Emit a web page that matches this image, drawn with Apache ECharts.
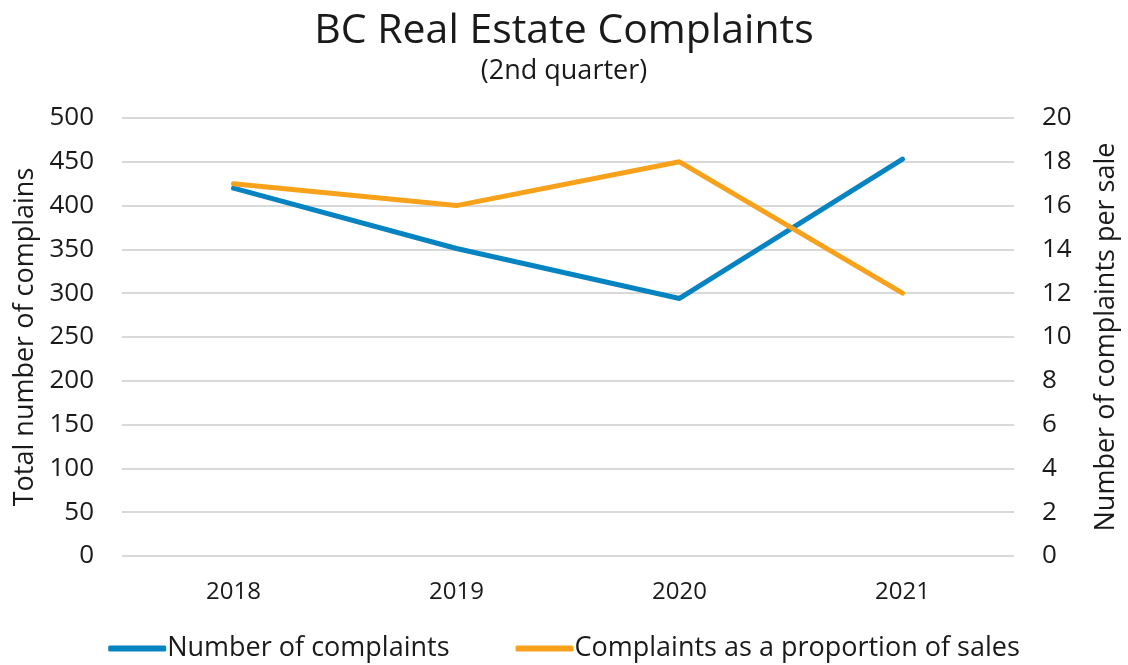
<!DOCTYPE html>
<html>
<head>
<meta charset="utf-8">
<script src="https://cdn.jsdelivr.net/npm/echarts@6/dist/echarts.min.js"></script>
<style>
    html, body { margin: 0; padding: 0; background: #fff; }
    #chart { width: 1128px; height: 665px; }
</style>
</head>
<body>
<div id="chart"></div>
<script>
    var years = ['2018', '2019', '2020', '2021'];
    var complaints = [420, 351, 294, 453];
    var perSale = [17, 16, 18, 12];

    var font = '"Open Sans", "Noto Sans", sans-serif';
    var chart = echarts.init(document.getElementById('chart'));

    chart.setOption({
        textStyle: { fontFamily: font },
        title: {
            text: 'BC Real Estate Complaints',
            subtext: '(2nd quarter)',
            left: 'center',
            top: 6,
            itemGap: 6,
            textStyle: { fontFamily: font, fontSize: 41, fontWeight: 'normal', color: '#1a1a1a' },
            subtextStyle: { fontFamily: font, fontSize: 27, color: '#1a1a1a' }
        },
        legend: {
            bottom: -2,
            left: 'center',
            itemGap: 66,
            itemWidth: 58,
            itemHeight: 6,
            icon: 'roundRect',
            textStyle: { fontFamily: font, fontSize: 27, color: '#1a1a1a', padding: [0, 0, 0, -4] },
            data: ['Number of complaints', 'Complaints as a proportion of sales']
        },
        grid: { left: 122, right: 107, top: 118, bottom: 109 },
        xAxis: {
            type: 'category',
            data: years,
            axisLine: { show: false },
            axisTick: { show: false },
            axisLabel: { fontSize: 24, color: '#1a1a1a', margin: 24 }
        },
        yAxis: [{
            type: 'value',
            min: 0, max: 500, interval: 50,
            name: 'Total number of complains',
            nameLocation: 'middle',
            nameGap: 80,
            nameTextStyle: { fontSize: 27, color: '#1a1a1a' },
            axisLabel: { fontSize: 26, color: '#1a1a1a', margin: 28 },
            splitLine: { lineStyle: { color: '#d9d9d9', width: 2 } }
        }, {
            type: 'value',
            min: 0, max: 20, interval: 2,
            name: 'Number of complaints per sale',
            nameLocation: 'middle',
            nameGap: 79,
            nameRotate: 90,
            nameTextStyle: { fontSize: 27, color: '#1a1a1a' },
            axisLabel: { fontSize: 26, color: '#1a1a1a', margin: 28, align: 'left' },
            splitLine: { show: false }
        }],
        series: [{
            name: 'Number of complaints',
            type: 'line',
            yAxisIndex: 0,
            data: complaints,
            symbol: 'none',
            color: '#0684C1',
            lineStyle: { width: 5, cap: 'round', join: 'round' }
        }, {
            name: 'Complaints as a proportion of sales',
            type: 'line',
            yAxisIndex: 1,
            data: perSale,
            symbol: 'none',
            color: '#F8A21C',
            lineStyle: { width: 5, cap: 'round', join: 'round' }
        }]
    });
</script>
</body>
</html>
